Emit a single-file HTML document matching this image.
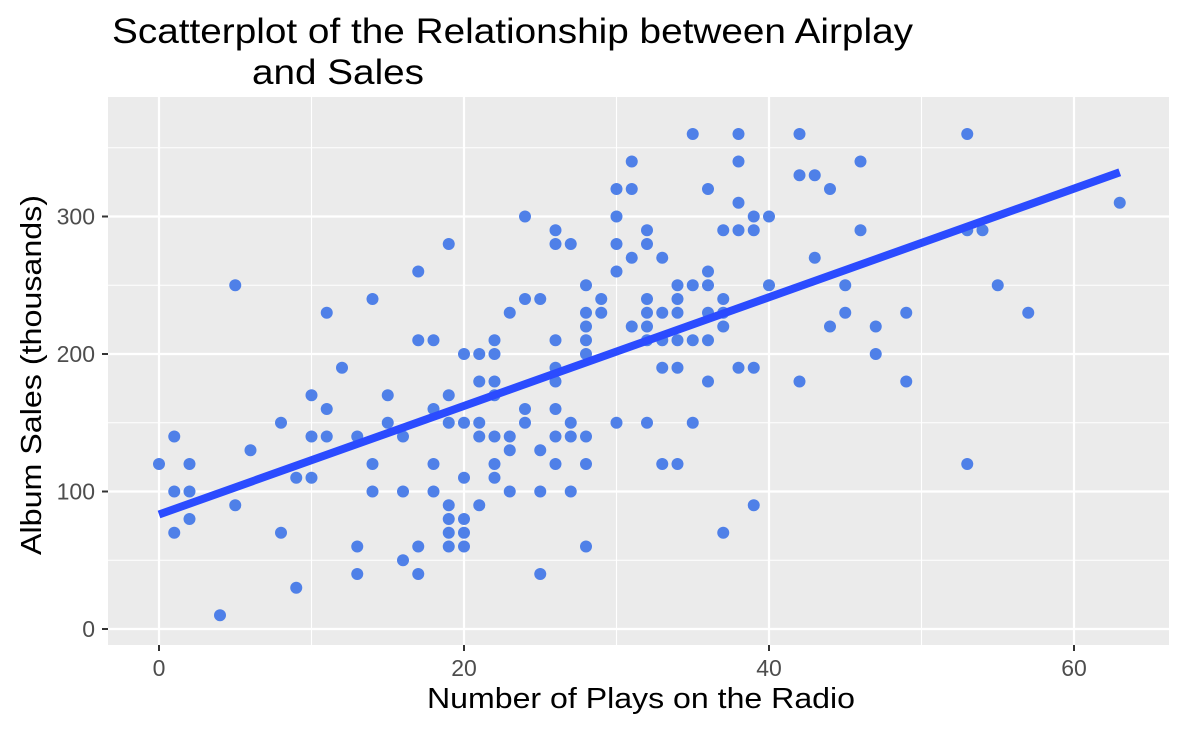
<!DOCTYPE html>
<html><head><meta charset="utf-8"><style>
body{margin:0;background:#fff;}
svg{display:block;font-family:"Liberation Sans",sans-serif;}
</style></head><body>
<svg id="chart" width="1185" height="732"></svg>
<script>
const plays=[0,1,1,1,2,2,2,4,5,5,6,8,8,9,9,10,10,10,11,11,11,12,13,13,13,14,14,14,15,15,16,16,16,17,17,17,17,18,18,18,18,19,19,19,19,19,19,19,20,20,20,20,20,20,21,21,21,21,21,22,22,22,22,22,22,22,23,23,23,23,24,24,24,24,25,25,25,25,26,26,26,26,26,26,26,26,27,27,27,27,28,28,28,28,28,28,28,28,29,29,30,30,30,30,30,31,31,31,31,32,32,32,32,32,32,32,33,33,33,33,33,34,34,34,34,34,34,35,35,35,35,36,36,36,36,36,36,37,37,37,37,37,38,38,38,38,38,39,39,39,39,40,40,42,42,42,43,43,44,44,45,45,46,46,47,47,49,49,53,53,53,54,55,57,63];
const sales=[120,140,100,70,120,100,80,10,250,90,130,150,70,110,30,170,140,110,230,160,140,190,140,60,40,240,120,100,170,150,140,100,50,260,210,60,40,210,160,120,100,280,170,150,90,80,70,60,200,150,110,80,70,60,200,180,150,140,90,210,200,180,170,140,120,110,230,140,130,100,300,240,160,150,240,130,100,40,290,280,210,190,180,160,140,120,280,150,140,100,250,230,220,210,200,140,120,60,240,230,320,300,280,260,150,340,320,270,220,290,280,240,230,220,210,150,270,230,210,190,120,250,240,230,210,190,120,360,250,210,150,320,260,250,230,210,180,290,240,230,220,70,360,340,310,290,190,300,290,190,90,300,250,360,330,180,330,270,320,220,250,230,340,290,220,200,230,180,360,290,120,290,250,230,310];
const xTicks=[0,20,40,60];
const yTicks=[0,100,200,300];
const NS="http://www.w3.org/2000/svg";
const svg=document.getElementById('chart');
const L=108,R=1169,T=97,B=645;
const X=v=>159+v*15.25;
const Y=v=>629-v*1.375;
function mk(tag,attrs,parent){const e=document.createElementNS(NS,tag);for(const k in attrs)e.setAttribute(k,attrs[k]);(parent||svg).appendChild(e);return e;}
const bg=mk('rect',{x:L,y:T,width:R-L,height:B-T,fill:'#EBEBEB'});


for(let v=10;v<=70;v+=20){if(X(v)<R){const g=mk('line',{x1:X(v),x2:X(v),y1:T,y2:B,stroke:'#fff','stroke-width':1.1});}}
for(let v=50;v<=350;v+=100){const g=mk('line',{x1:L,x2:R,y1:Y(v),y2:Y(v),stroke:'#fff','stroke-width':1.1});}
xTicks.forEach(v=>{
 const g=mk('line',{x1:X(v),x2:X(v),y1:T,y2:B,stroke:'#fff','stroke-width':2.2});
 
 const t=mk('line',{x1:X(v),x2:X(v),y1:B,y2:B+6,stroke:'#333','stroke-width':2});
 
 const l=mk('text',{x:X(v),y:B+31,'text-anchor':'middle','font-size':23,fill:'#4d4d4d'});l.textContent=v;
 
});
yTicks.forEach(v=>{
 const g=mk('line',{x1:L,x2:R,y1:Y(v),y2:Y(v),stroke:'#fff','stroke-width':2.2});
 
 const t=mk('line',{x1:L-6,x2:L,y1:Y(v),y2:Y(v),stroke:'#333','stroke-width':2});
 
 const l=mk('text',{x:L-13,y:Y(v)+8,'text-anchor':'end','font-size':23,fill:'#4d4d4d'});l.textContent=v;
 
});
plays.forEach((p,i)=>{
 const c=mk('circle',{cx:X(p),cy:Y(sales[i]),r:6,fill:'#4F80E8'});
 
 
});
const n=plays.length;let mx=0,my=0;plays.forEach((p,i)=>{mx+=p;my+=sales[i];});mx/=n;my/=n;
let sxy=0,sxx=0;plays.forEach((p,i)=>{sxy+=(p-mx)*(sales[i]-my);sxx+=(p-mx)*(p-mx);});
const b=sxy/sxx,a=my-b*mx;
const xmin=Math.min(...plays),xmax=Math.max(...plays);
const rl=mk('line',{x1:X(xmin),y1:Y(a+b*xmin),x2:X(xmax),y2:Y(a+b*xmax),stroke:'#2B4BFF','stroke-width':8});


const t1=mk('text',{x:112,y:43,'font-size':35,fill:'#000',textLength:801,lengthAdjust:'spacingAndGlyphs'});t1.textContent='Scatterplot of the Relationship between Airplay';

const t2=mk('text',{x:252,y:84,'font-size':35,fill:'#000',textLength:172,lengthAdjust:'spacingAndGlyphs'});t2.textContent='and Sales';

const xl=mk('text',{x:641,y:708,'text-anchor':'middle','font-size':29,fill:'#000',textLength:428,lengthAdjust:'spacingAndGlyphs'});xl.textContent='Number of Plays on the Radio';

const yl=mk('text',{x:0,y:0,'text-anchor':'middle','font-size':29,fill:'#000',textLength:360,lengthAdjust:'spacingAndGlyphs',transform:'translate(41,375) rotate(-90)'});yl.textContent='Album Sales (thousands)';

</script>
</body></html>
